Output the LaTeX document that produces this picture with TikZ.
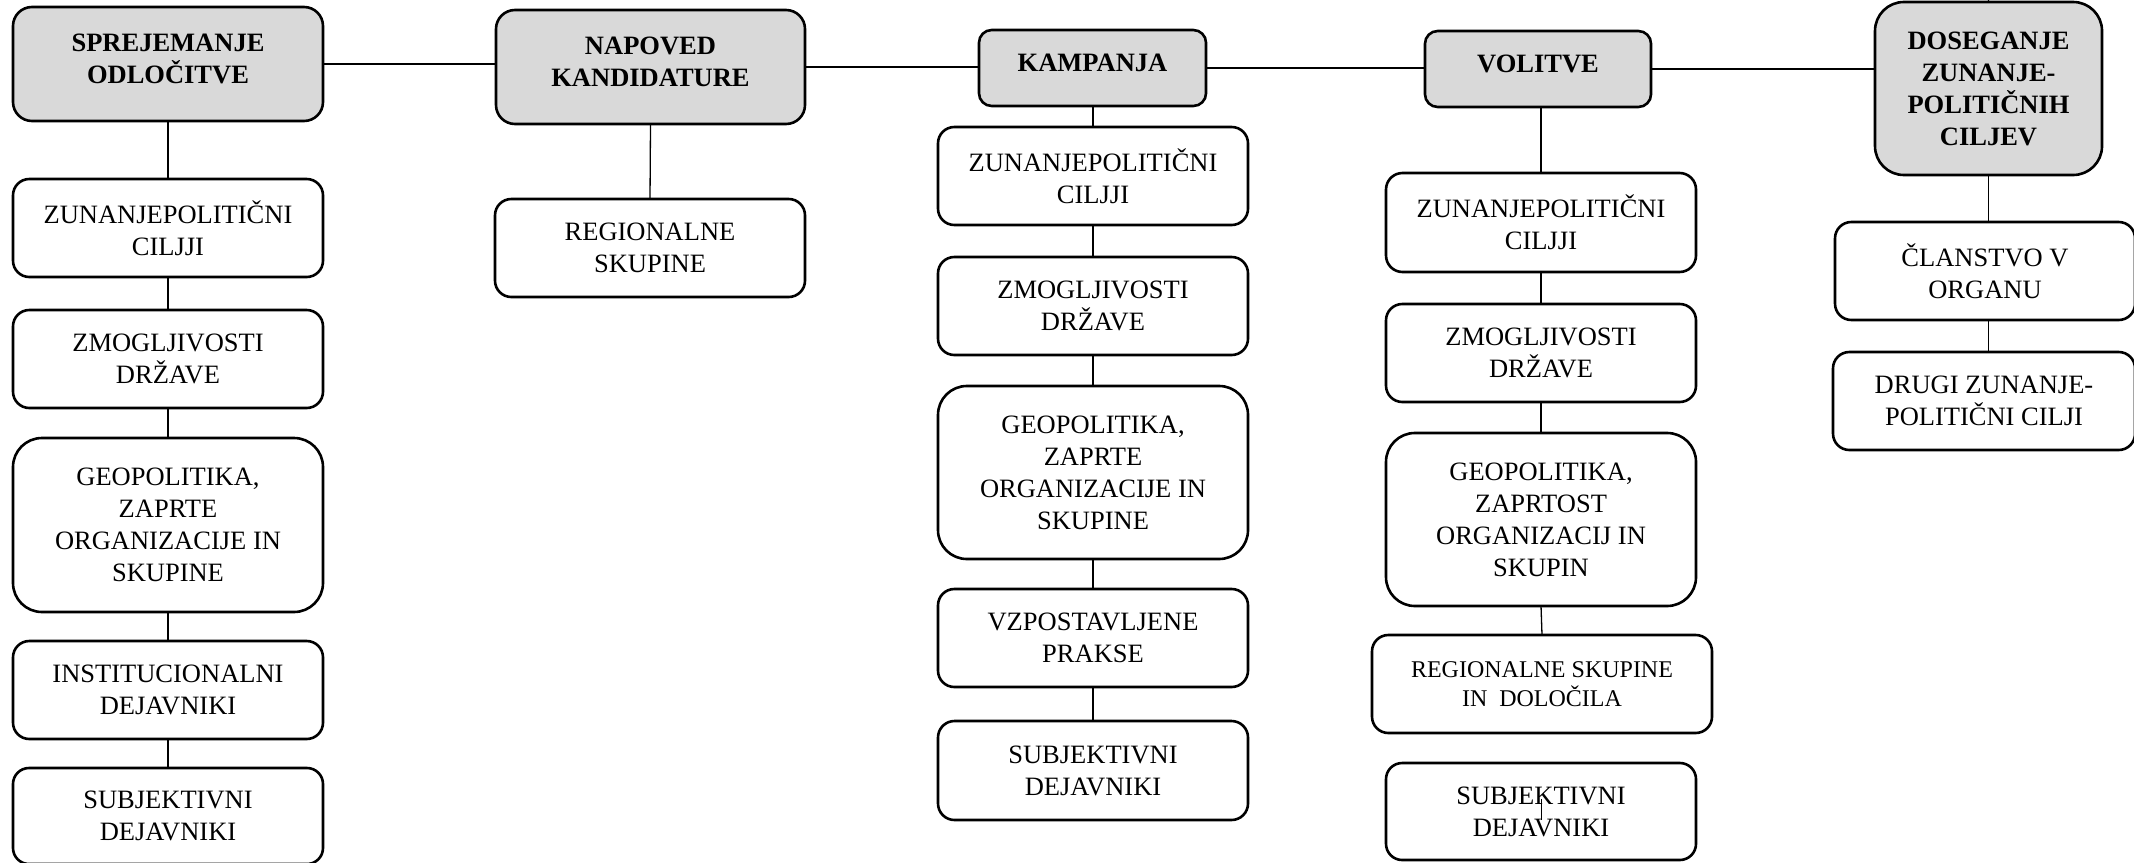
\documentclass[tikz,border=0pt]{standalone}
\usepackage{fontspec}
\setmainfont{Liberation Serif}
\definecolor{hdgray}{HTML}{D9D9D9}
\tikzset{
  bx/.style={draw, line width=1.3pt, fill=white, inner sep=0pt, outer sep=0pt,
    align=center, font=\fontsize{13.25}{16}\selectfont},
  hd/.style={fill=hdgray, font=\bfseries\fontsize{13.25}{16}\selectfont},
  hup/.style={hd, text depth=5.5pt},
  sm/.style={font=\fontsize{12}{14.2}\selectfont},
  conn/.style={line width=0.65pt},
}
\newcommand\mkbox[7][]{%
  \pgfmathsetmacro\bxcx{(#3+#4)/2}%
  \pgfmathsetmacro\bxcy{(#5+#6)/2}%
  \pgfmathsetmacro\bxw{(#4-#3)*0.5}%
  \pgfmathsetmacro\bxh{(#6-#5)*0.5}%
  \pgfmathsetmacro\bxr{min(\bxw,\bxh)*0.1667}%
  \node[bx,#1,minimum width=\bxw pt,minimum height=\bxh pt,rounded corners=\bxr pt] (#2) at (\bxcx,\bxcy) {#7};%
}
\begin{document}
\begin{tikzpicture}[x=0.5pt,y=-0.5pt]
\useasboundingbox (0,0) rectangle (2134,862);
\fill[white] (0,0) rectangle (2134,862);
\clip (0,0) rectangle (2134,862);
% column 1
\mkbox[hup]{h1}{13}{323}{7}{121}{SPREJEMANJE\\ODLOČITVE}
\mkbox{c1a}{13}{323}{179}{277}{ZUNANJEPOLITIČNI\\CILJJI}
\mkbox{c1b}{13}{323}{310}{408}{ZMOGLJIVOSTI\\DRŽAVE}
\mkbox{c1c}{13}{323}{438}{612}{GEOPOLITIKA,\\ZAPRTE\\ORGANIZACIJE IN\\SKUPINE}
\mkbox{c1d}{13}{323}{641}{739}{INSTITUCIONALNI\\DEJAVNIKI}
\mkbox{c1e}{13}{323}{768}{864}{SUBJEKTIVNI\\DEJAVNIKI}
% column 2
\mkbox[hup]{h2}{496}{805}{10}{124}{NAPOVED\\KANDIDATURE}
\mkbox{c2a}{495}{805}{199}{297}{REGIONALNE\\SKUPINE}
% column 3
\mkbox[hup]{h3}{979}{1206}{30}{106}{KAMPANJA}
\mkbox{c3a}{938}{1248}{127}{225}{ZUNANJEPOLITIČNI\\CILJJI}
\mkbox{c3b}{938}{1248}{257}{355}{ZMOGLJIVOSTI\\DRŽAVE}
\mkbox{c3c}{938}{1248}{386}{559}{GEOPOLITIKA,\\ZAPRTE\\ORGANIZACIJE IN\\SKUPINE}
\mkbox{c3d}{938}{1248}{589}{687}{VZPOSTAVLJENE\\PRAKSE}
\mkbox{c3e}{938}{1248}{721}{820}{SUBJEKTIVNI\\DEJAVNIKI}
% column 4
\mkbox[hup]{h4}{1425}{1651}{31}{107}{VOLITVE}
\mkbox{c4a}{1386}{1696}{173}{272}{ZUNANJEPOLITIČNI\\CILJJI}
\mkbox{c4b}{1386}{1696}{304}{402}{ZMOGLJIVOSTI\\DRŽAVE}
\mkbox{c4c}{1386}{1696}{433}{606}{GEOPOLITIKA,\\ZAPRTOST\\ORGANIZACIJ IN\\SKUPIN}
\mkbox[sm]{c4d}{1372}{1712}{635}{733}{REGIONALNE SKUPINE\\IN~~DOLOČILA}
\mkbox{c4e}{1386}{1696}{763}{860}{SUBJEKTIVNI\\DEJAVNIKI}
% column 5
\mkbox[hd]{h5}{1875}{2102}{2}{175}{DOSEGANJE\\ZUNANJE-\\POLITIČNIH\\CILJEV}
\mkbox{c5a}{1835}{2135}{222}{320}{ČLANSTVO V\\ORGANU}
\mkbox{c5b}{1833}{2135}{352}{450}{DRUGI ZUNANJE-\\POLITIČNI CILJI}
% header connectors
\draw[conn] (h1.east) -- (h1.east -| h2.west);
\draw[conn] (h2.east) -- (h2.east -| h3.west);
\draw[conn] (h3.east) -- (h3.east -| h4.west);
\draw[conn] (h4.east) -- (h4.east -| h5.west);
% column 1
\draw[conn] (h1.south) -- (c1a.north);
\draw[conn] (c1a.south) -- (c1b.north);
\draw[conn] (c1b.south) -- (c1c.north);
\draw[conn] (c1c.south) -- (c1d.north);
\draw[conn] (c1d.south) -- (c1e.north);
% column 2
\draw[conn] (h2.south) -- (c2a.north);
% column 3
\draw[conn] (c3a.north |- h3.south) -- (c3a.north);
\draw[conn] (c3a.south) -- (c3b.north);
\draw[conn] (c3b.south) -- (c3c.north);
\draw[conn] (c3c.south) -- (c3d.north);
\draw[conn] (c3d.south) -- (c3e.north);
% column 4
\draw[conn] (c4a.north |- h4.south) -- (c4a.north);
\draw[conn] (c4a.south) -- (c4b.north);
\draw[conn] (c4b.south) -- (c4c.north);
\draw[conn] (c4c.south) -- (c4d.north);
\coordinate (sa) at (1541.5,799);
\coordinate (sb) at (1541.5,820);
\draw[conn] (sa) -- (sb);
% column 5
\coordinate (topend) at (1988,-10);
\draw[conn] (h5.north) -- (topend);
\draw[conn] (h5.south) -- (h5.south |- c5a.north);
\draw[conn] (h5.south |- c5a.south) -- (h5.south |- c5b.north);
\end{tikzpicture}
\end{document}
